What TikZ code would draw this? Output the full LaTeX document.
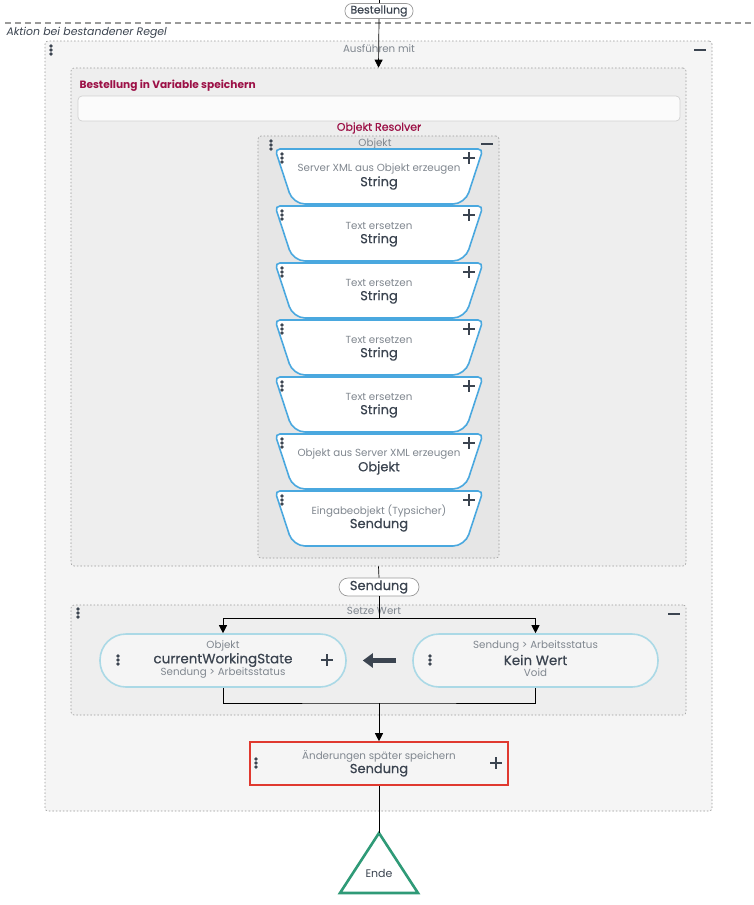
\documentclass[tikz,border=0pt]{standalone}
\usepackage{fontspec}
\setmainfont{Poppins}
\newfontfamily\mittelfont[FakeBold=0.5]{Poppins}
\usepackage{xcolor}
\usepackage{tikz}
\usetikzlibrary{arrows, arrows.meta}
\usetikzlibrary{calc}
\definecolor{dunkel}{HTML}{3B4450}
\definecolor{grautext}{HTML}{80878F}
\definecolor{rahmen}{HTML}{9A9A9A}
\definecolor{karmin}{HTML}{9C1046}
\definecolor{kartenblau}{HTML}{4AA8DF}
\definecolor{pillblau}{HTML}{ABD9E6}
\definecolor{signalrot}{HTML}{E0392F}
\definecolor{endegruen}{HTML}{2F9A77}
\definecolor{hell}{HTML}{F5F5F5}
\definecolor{mittel}{HTML}{EEEEEE}
\definecolor{tief}{HTML}{E6E6E6}
\newcommand{\menupunkte}[2]{\foreach \d in {-4,0,4} {\fill[dunkel] (#1,#2+\d) circle (1.9pt);}}
\newcommand{\plusicon}[2]{\draw[dunkel, line width=2.4pt] (#1-6,#2) -- (#1+6,#2) (#1,#2-6) -- (#1,#2+6);}
\newcommand{\minusicon}[2]{\draw[dunkel, line width=2.4pt] (#1-6,#2) -- (#1+6,#2);}

\begin{document}
\begin{tikzpicture}[x=1pt,y=-1pt,
    box/.style={draw=rahmen, line width=0.6pt, dash pattern=on 1.5pt off 2pt, rounded corners=3pt, inner sep=0pt},
    klein/.style={font=\fontsize{10.3}{12}\selectfont, text=grautext},
    haupt/.style={font=\fontsize{13}{15}\selectfont\mittelfont, text=dunkel},
    marke/.style={draw=rahmen, fill=white, rounded corners=7pt, inner sep=0pt, line width=0.7pt},
    flow/.style={black, line width=0.7pt},
    pfeil/.style={flow, -{Triangle[length=8pt,width=8pt]}},
    wertpill/.style={draw=pillblau, fill=white!40!mittel, line width=1.6pt, rounded corners=26pt, minimum width=246pt, minimum height=53pt, inner sep=0pt}]
    \useasboundingbox[fill=white] (0,0) rectangle (753,905);
    % Draw trigger and rule separator
    \coordinate (start) at (379,0);
    \node[marke, minimum width=68pt, minimum height=15pt, font=\fontsize{11}{13}\selectfont\mittelfont, text=dunkel] (bestellung) at (379,11) {Bestellung};
    \draw[flow] (start) -- (bestellung.north);
    \draw[rahmen, line width=1.5pt, dash pattern=on 6pt off 4pt] (5,23) -- (753,23);
    \node[anchor=west, font=\fontsize{10.9}{12}\selectfont\itshape, text=dunkel] (regel) at (3,33) {Aktion bei bestandener Regel};
    % Draw nested boxes
    \node[box, fill=hell, minimum width=667pt, minimum height=770pt] (ausfuehren) at (378.5,426) {};
    \node[klein, anchor=north] at (379,41) {Ausführen mit};
    \menupunkte{51}{50}
    \minusicon{700}{50}
    \node[box, fill=mittel, minimum width=615pt, minimum height=498pt] (variable) at (378.5,317) {};
    \draw[pfeil] (bestellung.south) -- (variable.north);
    \node[anchor=west, text=karmin, font=\fontsize{10.6}{12}\selectfont\bfseries] at (76,86) {Bestellung in Variable speichern};
    \node[draw=black!18, fill=white!60!hell, rounded corners=4pt, minimum width=602pt, minimum height=25pt, inner sep=0pt, line width=0.7pt] (eingabe) at (379,108.5) {};
    \node[text=karmin, font=\fontsize{11}{13}\selectfont\mittelfont] at (379,128) {Objekt Resolver};
    \node[box, fill=tief, minimum width=241pt, minimum height=422pt] (resolver) at (378.5,347) {};
    \node[klein, anchor=north] at (375,135) {Objekt};
    \menupunkte{271}{145}
    \minusicon{487}{144}
    % Draw resolver cards
    \foreach \y/\oben/\unten in {149/Server XML aus Objekt erzeugen/String, 206/Text ersetzen/String, 263/Text ersetzen/String, 320/Text ersetzen/String, 377/Text ersetzen/String, 434/Objekt aus Server XML erzeugen/Objekt, 491/Eingabeobjekt (Typsicher)/Sendung}
    {
        \draw[kartenblau, fill=white, line width=1.6pt] (379,\y) [rounded corners=5pt] -- (483,\y) [rounded corners=12pt] -- (465,\y+55) -- (293,\y+55) [rounded corners=5pt] -- (275,\y) -- cycle;
        \node[klein] at (379,\y+20) {\oben};
        \node[haupt] at (379,\y+34) {\unten};
        \menupunkte{282}{\y+9}
        \plusicon{469}{\y+9}
    }
    % Draw value assignment
    \node[marke, minimum width=80pt, minimum height=18pt, rounded corners=9pt, font=\fontsize{13}{15}\selectfont\mittelfont, text=dunkel] (sendung) at (379,587) {Sendung};
    \draw[flow] (variable.south) -- (sendung.north);
    \node[box, fill=mittel, minimum width=615pt, minimum height=110pt] (setzewert) at (378.5,660) {};
    \node[klein, anchor=north] at (374,604) {Setze Wert};
    \menupunkte{78}{613}
    \minusicon{674}{614}
    \node[wertpill] (ziel) at (223,660.5) {};
    \node[wertpill, minimum width=245pt] (quelle) at (535.5,660.5) {};
    \node[klein] at (223,646) {Objekt};
    \node[haupt, font=\fontsize{13.5}{15}\selectfont\mittelfont] at (223,660) {currentWorkingState};
    \node[klein] at (223,673) {Sendung > Arbeitsstatus};
    \menupunkte{118}{660}
    \plusicon{327}{660}
    \node[klein] at (535.5,646) {Sendung > Arbeitsstatus};
    \node[haupt, font=\fontsize{13.5}{15}\selectfont\mittelfont] at (535.5,660) {Kein Wert};
    \node[klein] at (535.5,673) {Void};
    \menupunkte{430}{660}
    \draw[dunkel, line width=5pt, -{Triangle[length=10pt,width=14pt]}] ([xshift=-16pt]quelle.west) -- ([xshift=16pt]ziel.east);
    \coordinate (verzweigung) at (379,618);
    \coordinate (zusammen) at (379,703);
    \draw[flow] (sendung.south) -- (verzweigung);
    \draw[pfeil] (verzweigung) -| (ziel.north);
    \draw[pfeil] (verzweigung) -| (quelle.north);
    \draw[flow] (ziel.south) |- (zusammen) -| (quelle.south);
    % Draw save step and end
    \node[draw=signalrot, fill=hell, line width=1.6pt, minimum width=258pt, minimum height=43pt, inner sep=0pt] (speichern) at (379,763.5) {};
    \draw[pfeil] (zusammen) -- (speichern.north);
    \node[klein] at (379,756) {Änderungen später speichern};
    \node[haupt] at (379,770) {Sendung};
    \menupunkte{256}{763}
    \plusicon{496}{763}
    \coordinate (endespitze) at (379,833);
    \draw[endegruen, fill=white, line width=2.6pt, line join=miter] (endespitze) -- (418,893) -- (340,893) -- cycle;
    \node[font=\fontsize{11}{13}\selectfont, text=dunkel] (ende) at (379,873) {Ende};
    \draw[flow] (speichern.south) -- (endespitze);
\end{tikzpicture}
\end{document}
